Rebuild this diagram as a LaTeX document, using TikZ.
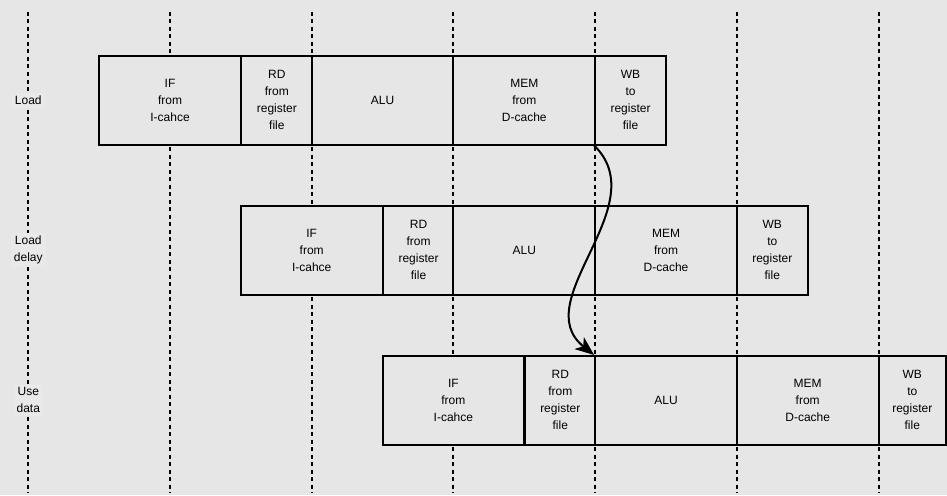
\documentclass[tikz,border=0pt]{standalone}
\usepackage{fontspec}
\setmainfont{Liberation Sans}
\usetikzlibrary{arrows.meta}
\definecolor{bgc}{HTML}{E6E6E6}
\definecolor{lblc}{HTML}{E9E9E9}
\tikzset{
  grid/.style={line width=2pt, dash pattern=on 4pt off 3.5pt},
  stage/.style={draw, line width=2pt, fill=bgc, rectangle, align=center,
    inner sep=0pt, minimum height=88.5pt, font=\fontsize{12}{17}\selectfont},
  rowlabel/.style={fill=lblc, align=center, inner sep=3pt, font=\fontsize{12}{17}\selectfont},
  full/.style={stage, minimum width=141.7pt},
  half/.style={stage, minimum width=70.85pt},
}
\begin{document}
\begin{tikzpicture}[x=1pt,y=-1pt]
\fill[bgc] (0,0) rectangle (947,495);
\useasboundingbox (0,0) rectangle (947,495);
% vertical dashed time lines
\foreach \i/\nm in {0/ga,1/gb,2/gc,3/gd,4/ge,5/gf,6/gg}{
  \coordinate (\nm t) at (28.3+141.7*\i,12);
  \coordinate (\nm b) at (28.3+141.7*\i,493);
  \draw[grid] (\nm t) -- (\nm b);
}
% row labels
\node[rowlabel] (lab1) at (28.3,100.25) {Load};
\node[rowlabel] (lab2) at (28.3,250.25) {Load\\delay};
\node[rowlabel] (lab3) at (28.3,400.25) {Use\\data};
% row 1
\node[full] (aif)  at (170.0,100.25) {IF\\from\\I-cahce};
\node[half] (ard)  at (276.85,100.25) {RD\\from\\register\\file};
\node[full] (aalu) at (382.6,100.25) {ALU};
\node[full] (amem) at (524.3,100.25) {MEM\\from\\D-cache};
\node[half] (awb)  at (630.55,100.25) {WB\\to\\register\\file};
% row 2
\node[full] (bif)  at (311.7,250.25) {IF\\from\\I-cahce};
\node[half] (brd)  at (418.55,250.25) {RD\\from\\register\\file};
\node[full] (balu) at (524.3,250.25) {ALU};
\node[full] (bmem) at (666.0,250.25) {MEM\\from\\D-cache};
\node[half] (bwb)  at (772.25,250.25) {WB\\to\\register\\file};
% row 3
\node[full] (cif)  at (453.4,400.25) {IF\\from\\I-cahce};
\node[half] (crd)  at (560.25,400.25) {RD\\from\\register\\file};
\node[full] (calu) at (666.0,400.25) {ALU};
\node[full] (cmem) at (807.7,400.25) {MEM\\from\\D-cache};
\node[stage, minimum width=67.5pt] (cwb) at (912.25,400.25) {WB\\to\\register\\file};
% forwarding arrow
\draw[line width=2pt, -{Stealth[length=19pt,width=15pt,inset=5pt]}]
  (awb.south west) .. controls +(62,60) and +(-68,-54) .. (calu.north west);
\end{tikzpicture}
\end{document}
